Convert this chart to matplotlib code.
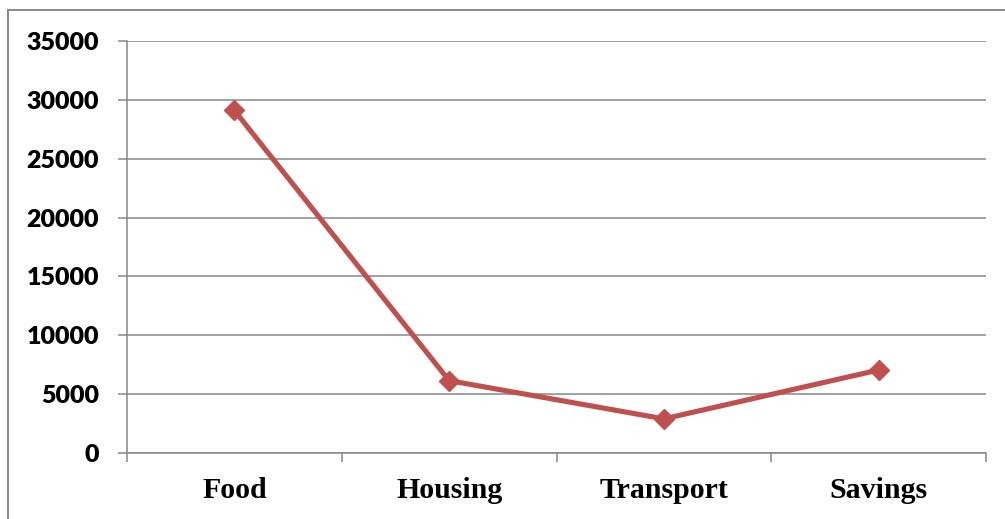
import matplotlib
matplotlib.use("Agg")
import matplotlib.pyplot as plt
from matplotlib.lines import Line2D

categories = ["Food", "Housing", "Transport", "Savings"]
amounts = [29100, 6150, 2900, 7050]
y_ticks = [0, 5000, 10000, 15000, 20000, 25000, 30000, 35000]

W, H = 1005, 519
fig = plt.figure(figsize=(W / 100, H / 100), dpi=100)
fig.patch.set_facecolor("white")

left, right, top, bottom = 127, 986, 41, 453
ax = fig.add_axes([left / W, 1 - bottom / H, (right - left) / W, (bottom - top) / H])

grid_c = "#878787"
line_c = "#C0504D"

x = list(range(len(categories)))
ax.plot(x, amounts, color=line_c, lw=3.7, marker="D", ms=10.5,
        markerfacecolor=line_c, markeredgecolor=line_c, mew=1, zorder=3,
        solid_joinstyle="miter")

ax.set_xlim(-0.5, len(categories) - 0.5)
ax.set_ylim(0, 35000)
ax.set_yticks(y_ticks)
ax.set_yticklabels([str(v) for v in y_ticks], fontfamily="Lato",
                   fontweight="heavy", fontsize=18)
ax.yaxis.grid(True, color=grid_c, lw=1.1)
ax.set_axisbelow(True)

# category ticks sit on the boundaries between categories
ax.set_xticks([i - 0.5 for i in range(len(categories) + 1)])
ax.set_xticklabels([])
ax.set_xticks(x, minor=True)
ax.set_xticklabels(categories, minor=True, fontfamily="Liberation Serif",
                   fontweight="bold", fontsize=21.5)
ax.tick_params(axis="x", which="minor", length=0, pad=17.5)
ax.tick_params(axis="x", which="major", direction="out", length=6.5,
               width=1.1, color=grid_c)
ax.tick_params(axis="y", direction="out", length=6.5, width=1.1,
               color=grid_c, pad=13.5)

for side in ("top", "right"):
    ax.spines[side].set_visible(False)
for side in ("left", "bottom"):
    ax.spines[side].set_color(grid_c)
    ax.spines[side].set_linewidth(1.1)

# outer chart frame (top and left edges)
fig.add_artist(Line2D([8 / W, 1.0], [1 - 10 / H, 1 - 10 / H],
                      transform=fig.transFigure, color="#888888", lw=1.4))
fig.add_artist(Line2D([8 / W, 8 / W], [1 - 10 / H, 0.0],
                      transform=fig.transFigure, color="#888888", lw=1.4))

fig.savefig("out.png", dpi=100, facecolor="white")
